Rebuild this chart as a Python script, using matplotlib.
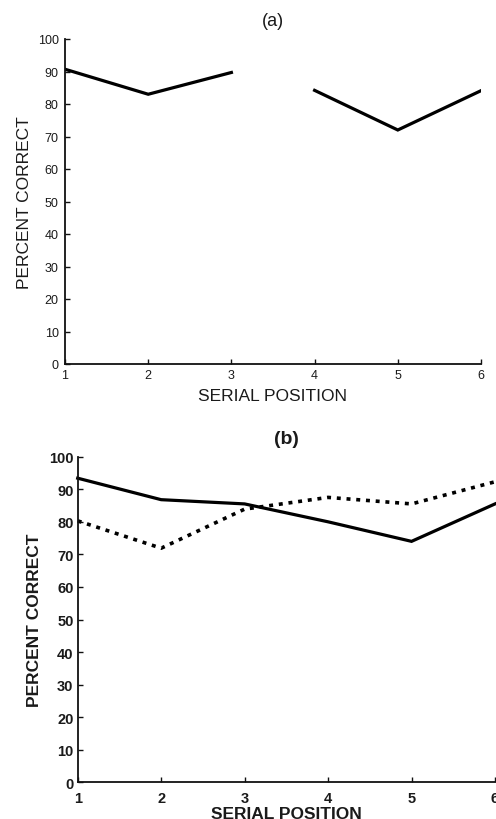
import numpy as np
import matplotlib
matplotlib.use("Agg")
import matplotlib.pyplot as plt

# Serial-position data
positions = [1, 2, 3, 4, 5, 6]
ticks_y = [0, 10, 20, 30, 40, 50, 60, 70, 80, 90, 100]

# Panel (a): two separate runs of three positions
a_first_pos = [1, 2, 3]
a_first_val = [90.7, 83.0, 89.7]
a_second_pos = [4, 5, 6]
a_second_val = [84.2, 72.0, 84.1]

# Panel (b): two conditions
b_solid = [93.4, 86.8, 85.5, 80.0, 74.0, 85.5]
b_dotted = [80.3, 71.9, 83.9, 87.5, 85.5, 92.3]

plt.rcParams['font.family'] = ['Liberation Sans', 'DejaVu Sans']
TXT = '#1a1a1a'

fig = plt.figure(figsize=(4.96, 8.2), dpi=100)


def style_axes(ax, size, weight, xpad, ypad):
    ax.set_xlim(1, 6)
    ax.set_ylim(0, 100)
    ax.set_xticks(positions)
    ax.set_yticks(ticks_y)
    for s in ('top', 'right'):
        ax.spines[s].set_visible(False)
    for s in ('left', 'bottom'):
        ax.spines[s].set_linewidth(1.3)
        ax.spines[s].set_color('#111111')
    ax.tick_params(direction='in', length=3.5, width=1.0, colors='#111111',
                   labelsize=size, labelcolor=TXT)
    ax.tick_params(axis='x', pad=xpad)
    ax.tick_params(axis='y', pad=ypad)
    for lab in ax.get_xticklabels() + ax.get_yticklabels():
        lab.set_fontweight(weight)


# ---- panel (a)
ax1 = fig.add_axes([65 / 496, 1 - 365 / 820, (481 - 65) / 496, (365 - 40) / 820])
ax1.plot(a_first_pos, a_first_val, color='black', lw=2.3, solid_joinstyle='miter')
ax1.plot(a_second_pos, a_second_val, color='black', lw=2.3, solid_joinstyle='miter')
style_axes(ax1, 9, 'normal', 3.6, 4.5)
ax1.set_title('(a)', fontsize=13, color=TXT, pad=10)
ax1.set_xlabel('SERIAL POSITION', fontsize=12.5, color=TXT, labelpad=5)
ax1.set_ylabel('PERCENT CORRECT', fontsize=12.5, color=TXT, labelpad=4)

# ---- panel (b)
ax2 = fig.add_axes([77.7 / 496, 1 - 783.3 / 820, (495 - 77.7) / 496, (783.3 - 457.7) / 820])
ax2.plot(positions, b_solid, color='black', lw=2.3, solid_joinstyle='miter', clip_on=False)
ax2.plot(positions, b_dotted, color='black', lw=2.6, linestyle=(0, (1.1, 1.6)), clip_on=False)
style_axes(ax2, 10.5, 'bold', 6, 3)
ax2.set_title('(b)', fontsize=14, fontweight='bold', color=TXT, pad=10)
ax2.set_xlabel('SERIAL POSITION', fontsize=12.5, fontweight='bold', color=TXT, labelpad=1)
ax2.set_ylabel('PERCENT CORRECT', fontsize=12.5, fontweight='bold', color=TXT, labelpad=5)

fig.savefig('out.png', dpi=100)
